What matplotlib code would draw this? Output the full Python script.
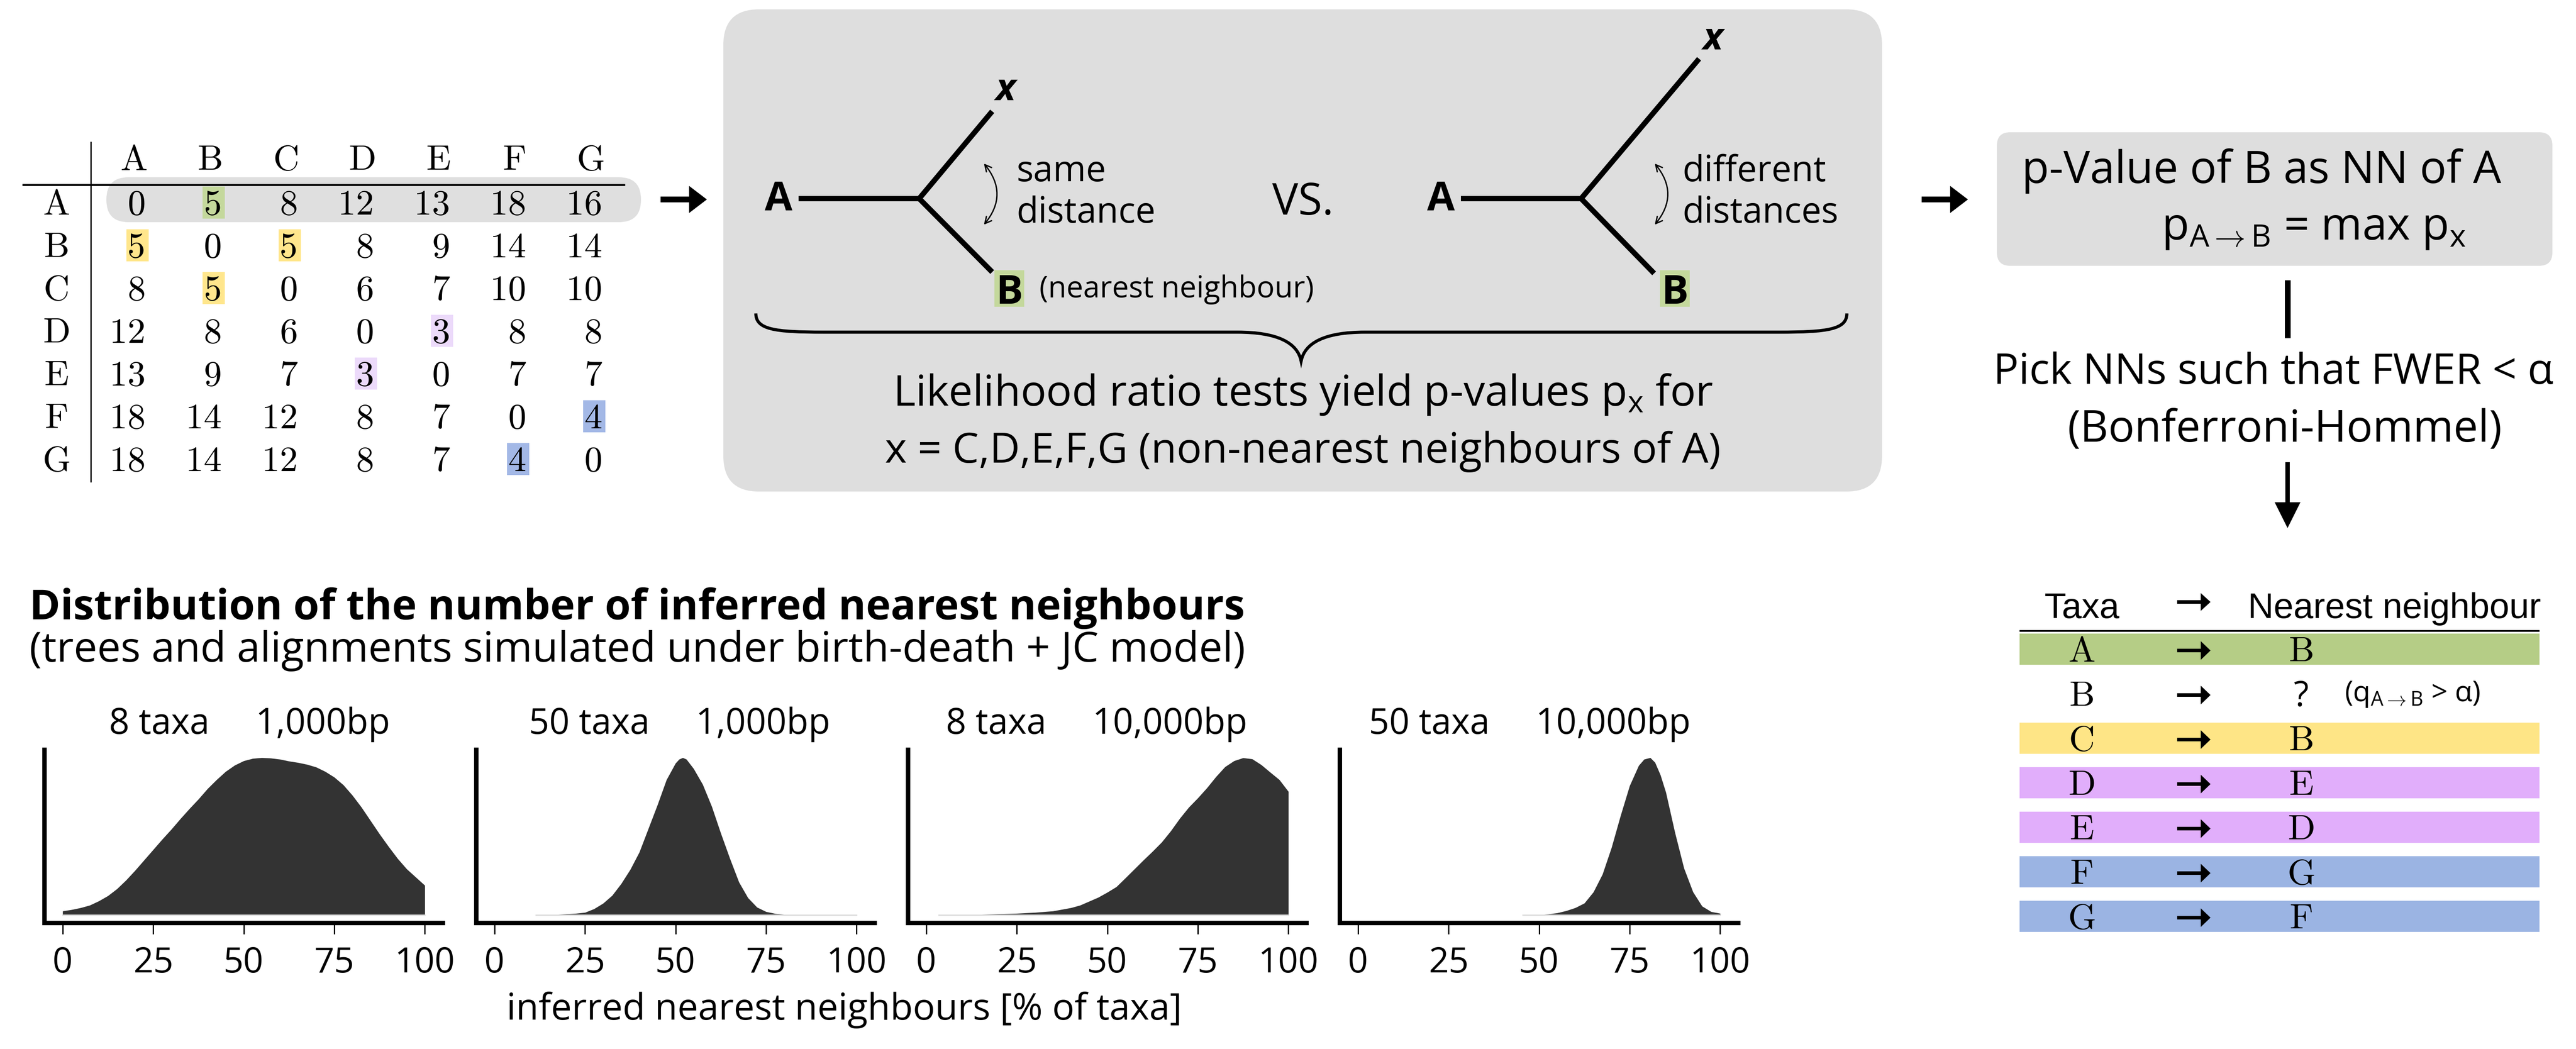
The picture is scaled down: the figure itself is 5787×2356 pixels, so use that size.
import matplotlib
matplotlib.use("Agg")
import matplotlib.pyplot as plt
from matplotlib.patches import FancyBboxPatch, Rectangle, FancyArrowPatch, PathPatch
from matplotlib.path import Path

W, H, DPI = 5787, 2356, 300


def pt(px):
    """pixels at 300 dpi -> points"""
    return px * 72.0 / DPI


plt.rcParams["font.family"] = ["Open Sans", "DejaVu Sans"]
plt.rcParams["mathtext.fontset"] = "custom"
plt.rcParams["mathtext.rm"] = "Open Sans"
plt.rcParams["mathtext.it"] = "Open Sans:italic"
plt.rcParams["mathtext.bf"] = "Open Sans:bold"

# ---- distance matrix (top left) ----
taxa = ["A", "B", "C", "D", "E", "F", "G"]
dist = [
    [0, 5, 8, 12, 13, 18, 16],
    [5, 0, 5, 8, 9, 14, 14],
    [8, 5, 0, 6, 7, 10, 10],
    [12, 8, 6, 0, 3, 8, 8],
    [13, 9, 7, 3, 0, 7, 7],
    [18, 14, 12, 8, 7, 0, 4],
    [18, 14, 12, 8, 7, 4, 0],
]
highlight_cells = [
    (0, 1, "#c4d89c"),
    (1, 0, "#ffe68c"), (1, 2, "#ffe68c"), (2, 1, "#ffe68c"),
    (3, 4, "#ecdafa"), (4, 3, "#ecdafa"),
    (5, 6, "#a3b8e6"), (6, 5, "#a3b8e6"),
]

# ---- nearest neighbour table (bottom right) ----
nn_result = ["B", "?", "B", "E", "D", "G", "F"]
nn_colors = ["#b5cd86", None, "#fee586", "#e1aefb", "#e1aefb", "#9bb4e3", "#9bb4e3"]

# ---- densities of inferred nearest neighbours [% of taxa], scaled to max 1 ----
panel_titles = ["8 taxa     1,000bp", "50 taxa     1,000bp",
                "8 taxa     10,000bp", "50 taxa     10,000bp"]

x_8_1k = [0, 2.5, 5, 7.5, 10, 12.5, 15, 17.5, 20, 22.5, 25, 27.5, 30, 32.5, 35,
          37.5, 40, 42.5, 45, 47.5, 50, 52.5, 55, 57.5, 60, 62.5, 65, 67.5, 70,
          72.5, 75, 77.5, 80, 82.5, 85, 87.5, 90, 92.5, 95, 97.5, 100]
d_8_1k = [0.026, 0.035, 0.047, 0.063, 0.09, 0.123, 0.167, 0.222, 0.284, 0.35,
          0.416, 0.482, 0.545, 0.612, 0.676, 0.737, 0.803, 0.86, 0.912, 0.952,
          0.98, 0.995, 1.0, 0.997, 0.99, 0.978, 0.969, 0.957, 0.94, 0.912,
          0.876, 0.827, 0.761, 0.685, 0.6, 0.515, 0.435, 0.359, 0.293, 0.241,
          0.189]

x_50_1k = [11.5, 15, 17.5, 20, 22.5, 25, 27.5, 30, 32.5, 35, 37.5, 40, 42.5, 45,
           47.5, 50, 51, 52, 53, 55, 57.5, 60, 62.5, 65, 67.5, 70, 72.5, 75, 77.5, 80,
           82.5, 85, 90, 100]
d_50_1k = [0.0, 0.003, 0.005, 0.008, 0.011, 0.017, 0.04, 0.075, 0.125, 0.2,
           0.29, 0.4, 0.55, 0.7, 0.86, 0.965, 0.99, 1.0, 0.99, 0.93, 0.83, 0.69,
           0.52, 0.36, 0.21, 0.11, 0.05, 0.022, 0.01, 0.005, 0.002, 0.001, 0.0, 0.0]

x_8_10k = [3.5, 5, 10, 15, 20, 25, 30, 35, 40, 42.5, 45, 47.5, 50, 52.5, 55,
           57.5, 60, 62.5, 65, 67.5, 70, 72.5, 75, 77.5, 80, 82.5, 85, 87.5, 90,
           92.5, 95, 97.5, 100]
d_8_10k = [0.0, 0.001, 0.003, 0.005, 0.008, 0.011, 0.017, 0.026, 0.047, 0.063,
           0.088, 0.113, 0.145, 0.18, 0.236, 0.293, 0.35, 0.405, 0.463, 0.534,
           0.614, 0.685, 0.744, 0.808, 0.879, 0.942, 0.98, 0.999, 0.992, 0.955,
           0.907, 0.86, 0.785]

x_50_10k = [45.5, 47.5, 50, 52.5, 55, 57.5, 60, 62.5, 65, 67.5, 70, 72.5, 75,
            77.5, 79, 80.7, 82, 83.5, 85, 87.5, 90, 92.5, 95, 97.5, 100]
d_50_10k = [0.0, 0.001, 0.003, 0.007, 0.014, 0.028, 0.047, 0.076, 0.147, 0.26,
            0.43, 0.633, 0.822, 0.95, 0.99, 1.0, 0.97, 0.89, 0.78, 0.525, 0.298,
            0.147, 0.057, 0.022, 0.011]

densities = [(x_8_1k, d_8_1k), (x_50_1k, d_50_1k), (x_8_10k, d_8_10k), (x_50_10k, d_50_10k)]

fig = plt.figure(figsize=(W / DPI, H / DPI), dpi=DPI)
fig.patch.set_facecolor("white")

# overlay axes in pixel coordinates for the diagram parts
ax = fig.add_axes([0, 0, 1, 1])
ax.set_xlim(0, W)
ax.set_ylim(H, 0)
ax.axis("off")

black = "black"
mat_fs = pt(81)

# ---------------- distance matrix ----------------
col_right = [327 + 171 * j for j in range(7)]
row_mid = [455 + 96 * i for i in range(7)]

ax.add_patch(FancyBboxPatch((239, 398), 1201, 101, boxstyle="round,pad=0,rounding_size=50",
                            fc="#dfdfdf", ec="none", zorder=1))
for r, c, col in highlight_cells:
    ax.add_patch(Rectangle((col_right[c] - 43, row_mid[r] - 36), 50, 72, fc=col, ec="none", zorder=2))
for j, t in enumerate(taxa):
    ax.text(col_right[j] - 26, 382, t, ha="center", va="baseline", family="cmr10", fontsize=mat_fs, zorder=3)
for i, t in enumerate(taxa):
    ax.text(127, row_mid[i] + 27, t, ha="center", va="baseline", family="cmr10", fontsize=mat_fs, zorder=3)
    for j, v in enumerate(dist[i]):
        ax.text(col_right[j], row_mid[i] + 27, str(v), ha="right", va="baseline",
                family="cmr10", fontsize=mat_fs, zorder=3)
ax.plot([50, 1404], [415, 415], color=black, lw=pt(4.5), solid_capstyle="butt", zorder=3)
ax.plot([204, 204], [318, 1083], color=black, lw=pt(3), solid_capstyle="butt", zorder=3)


def big_arrow(x0, y0, dx, dy, shaft, head_w, head_l):
    ax.arrow(x0, y0, dx, dy, width=shaft, head_width=head_w, head_length=head_l,
             length_includes_head=True, fc=black, ec="none", zorder=4)


big_arrow(1484, 448, 104, 0, 13, 61, 40)
big_arrow(4317, 448, 104, 0, 13, 61, 40)

# ---------------- likelihood ratio box ----------------
ax.add_patch(FancyBboxPatch((1625, 21), 2603, 1083, boxstyle="round,pad=0,rounding_size=80",
                            fc="#dedede", ec="none", zorder=1))
tree_lw = pt(12)
tree_fs = pt(90)
for (ax0, nx, up, down, xlab) in [(1794, 2065, (2229, 250), (2229, 611), (2259, 225)),
                                  (3282, 3552, (3817, 132), (3716, 614), (3848, 111))]:
    ax.plot([ax0, nx], [446, 446], color=black, lw=tree_lw, solid_capstyle="butt", zorder=3)
    ax.plot([up[0], nx, down[0]], [up[1], 446, down[1]], color=black, lw=tree_lw,
            solid_capstyle="butt", solid_joinstyle="miter", zorder=3)
    ax.text(ax0 - 45, 471, "A", ha="center", va="baseline", fontweight="bold", fontsize=tree_fs, zorder=3)
    ax.text(xlab[0], xlab[1], "x", ha="center", va="baseline", fontweight="bold",
            fontstyle="italic", fontsize=pt(85), zorder=3)
    bx = down[0] + 39 if nx < 3000 else down[0] + 47
    ax.add_patch(Rectangle((bx - 34, 607), 67, 82, fc="#c4d89c", ec="none", zorder=2))
    ax.text(bx, 682, "B", ha="center", va="baseline", fontweight="bold", fontsize=tree_fs, zorder=3)

ax.text(2335, 668, "(nearest neighbour)", ha="left", va="baseline", fontsize=pt(67), zorder=3)
ax.text(2284, 407, "same", ha="left", va="baseline", fontsize=pt(80), zorder=3)
ax.text(2284, 500, "distance", ha="left", va="baseline", fontsize=pt(80), zorder=3)
ax.text(3780, 407, "different", ha="left", va="baseline", fontsize=pt(80), zorder=3)
ax.text(3780, 500, "distances", ha="left", va="baseline", fontsize=pt(80), zorder=3)
ax.text(2927, 482, "VS.", ha="center", va="baseline", fontsize=pt(98), zorder=3)

for xa in [2205, 3712]:
    ax.add_patch(FancyArrowPatch((xa, 361), (xa, 511), connectionstyle="arc3,rad=-0.45",
                                 arrowstyle="<->,head_length=0.35,head_width=0.18",
                                 mutation_scale=10, lw=pt(3), color=black, zorder=3))

brace = Path(
    [(1698, 704), (1698, 740), (1740, 746), (1850, 746), (2780, 746),
     (2870, 746), (2915, 770), (2923, 811),
     (2931, 770), (2976, 746), (3066, 746), (3996, 746),
     (4106, 746), (4149, 740), (4149, 704)],
    [Path.MOVETO, Path.CURVE4, Path.CURVE4, Path.CURVE4, Path.LINETO,
     Path.CURVE4, Path.CURVE4, Path.CURVE4,
     Path.CURVE4, Path.CURVE4, Path.CURVE4, Path.LINETO,
     Path.CURVE4, Path.CURVE4, Path.CURVE4])
ax.add_patch(PathPatch(brace, fc="none", ec=black, lw=pt(7), zorder=3))

ax.text(2927, 911, "Likelihood ratio tests yield p-values p$_\\mathrm{x}$ for", ha="center",
        va="baseline", fontsize=pt(96), zorder=3)
ax.text(2927, 1039, "x = C,D,E,F,G (non-nearest neighbours of A)", ha="center",
        va="baseline", fontsize=pt(94), zorder=3)

# ---------------- p-value box and correction ----------------
ax.add_patch(FancyBboxPatch((4486, 297), 1248, 300, boxstyle="round,pad=0,rounding_size=30",
                            fc="#dedede", ec="none", zorder=1))
ax.text(5081, 411, "p-Value of B as NN of A", ha="center", va="baseline", fontsize=pt(100), zorder=3)
ax.text(4856, 538, "p$_{\\mathrm{A\\rightarrow B}}$ = max p$_\\mathrm{x}$", ha="left", va="baseline",
        fontsize=pt(100), zorder=3)
ax.plot([5139, 5139], [629, 759], color=black, lw=pt(13), solid_capstyle="butt")
ax.text(4478, 862, "Pick NNs such that FWER < α", ha="left", va="baseline", fontsize=pt(95), zorder=3)
ax.text(5132, 992, "(Bonferroni-Hommel)", ha="center", va="baseline", fontsize=pt(98), zorder=3)
big_arrow(5139, 1038, 0, 148, 10, 58, 58)

# ---------------- nearest neighbour table ----------------
tab_fs = pt(80)
ax.text(4677, 1388, "Taxa", ha="center", va="baseline", family="Liberation Sans", fontsize=tab_fs)
ax.text(5050, 1388, "Nearest neighbour", ha="left", va="baseline", family="Liberation Sans", fontsize=tab_fs)
big_arrow(4891, 1352, 75, 0, 8, 40, 22)
ax.plot([4537, 5705], [1417, 1417], color=black, lw=pt(4), solid_capstyle="butt")
for i, t in enumerate(taxa):
    c = 1458 + 100 * i
    if nn_colors[i]:
        ax.add_patch(Rectangle((4537, c - 35), 1168, 70, fc=nn_colors[i], ec="none", zorder=1))
    ax.text(4677, c + 28, t, ha="center", va="baseline", family="cmr10", fontsize=mat_fs, zorder=3)
    if nn_result[i] == "?":
        ax.text(5170, c + 28, "?", ha="center", va="baseline", fontsize=pt(78), zorder=3)
    else:
        ax.text(5170, c + 28, nn_result[i], ha="center", va="baseline", family="cmr10",
                fontsize=mat_fs, zorder=3)
    big_arrow(4891, c + 3, 75, 0, 8, 42, 22)
ax.text(5267, 1575, "(q$_{\\mathrm{A\\rightarrow B}}$ > α)", ha="left", va="baseline",
        fontsize=pt(64), zorder=3)

# ---------------- density panels ----------------
ax.text(66, 1391, "Distribution of the number of inferred nearest neighbours", ha="left",
        va="baseline", fontweight="bold", fontsize=pt(94))
ax.text(66, 1486, "(trees and alignments simulated under birth-death + JC model)", ha="left",
        va="baseline", fontsize=pt(94))
title_cx = [561, 1527, 2463, 3436]

for i, (xs, ds) in enumerate(densities):
    left = 100 + 970 * i
    pax = fig.add_axes([left / W, 1 - 2073 / H, 895 / W, (2073 - 1684) / H])
    pax.patch.set_alpha(0)
    pax.fill_between(xs, ds, 0, color="#333333", lw=0)
    pax.plot([xs[0], xs[-1]], [0, 0], color="#dddddd", lw=pt(3))
    pax.set_xlim(-5, 105)
    pax.set_ylim(-0.05, 1.05)
    pax.set_xticks([0, 25, 50, 75, 100])
    pax.set_yticks([])
    for s in ["top", "right"]:
        pax.spines[s].set_visible(False)
    for s in ["left", "bottom"]:
        pax.spines[s].set_linewidth(pt(10))
        pax.spines[s].set_capstyle("projecting")
    pax.tick_params(axis="x", length=pt(25), width=pt(3), pad=pt(26), labelsize=pt(79))
    ax.text(title_cx[i], 1648, panel_titles[i], ha="center", va="baseline", fontsize=pt(80))

ax.text(1897, 2290, "inferred nearest neighbours [% of taxa]", ha="center", va="baseline", fontsize=pt(83))

fig.savefig("out.png", dpi=DPI)
